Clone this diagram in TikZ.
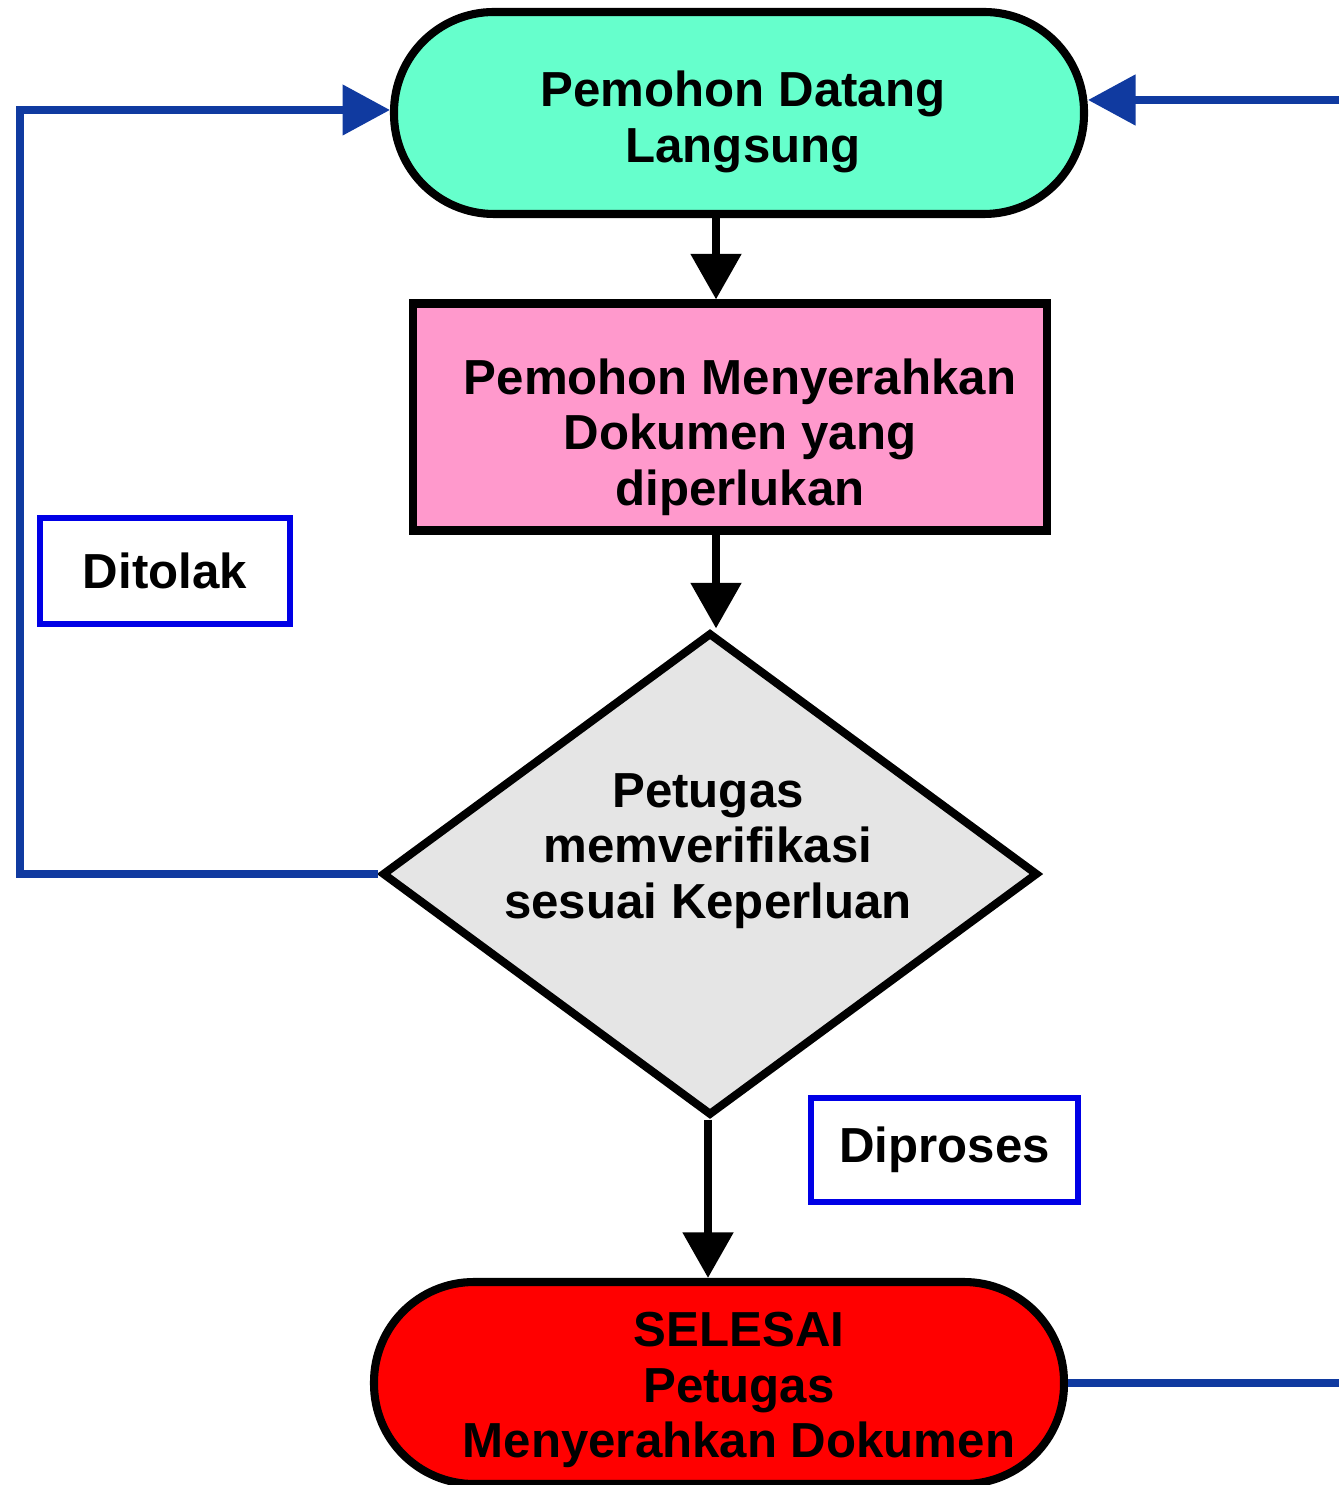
\documentclass[tikz,border=0pt]{standalone}
\usepackage{fontspec}
\setmainfont{Liberation Sans}
\usetikzlibrary{shapes.geometric,arrows.meta,calc}
\definecolor{termgreen}{RGB}{102,255,204}
\definecolor{procpink}{RGB}{255,153,204}
\definecolor{decgray}{RGB}{229,229,229}
\definecolor{termred}{RGB}{255,0,0}
\definecolor{loopblue}{RGB}{16,58,160}
\definecolor{boxblue}{RGB}{0,0,230}
\begin{document}
\begin{tikzpicture}[x=1cm,y=1cm,
  txt/.style={font=\fontsize{14}{15.8}\selectfont\bfseries, align=center},
  terminal/.style={draw=black, line width=2.3pt, rounded corners=1.0cm, minimum width=6.9cm, minimum height=2.02cm, inner sep=0pt},
  procbox/.style={draw=black, line width=2.3pt, fill=procpink, minimum width=6.34cm, minimum height=2.27cm, inner sep=0pt},
  decision/.style={shape=diamond, draw=black, line width=2.3pt, fill=decgray, minimum width=6.56cm, minimum height=4.83cm, inner sep=0pt},
  labelbox/.style={draw=boxblue, line width=1.8pt, fill=white, inner sep=0pt, txt},
  flowarrow/.style={draw=black, line width=2.3pt, -{Triangle[width=14pt,length=13pt]}},
  looparrow/.style={draw=loopblue, line width=2.1pt, -{Triangle[width=14pt,length=13.5pt]}},
  loopline/.style={draw=loopblue, line width=2.1pt}
]
\useasboundingbox (0,0) rectangle (13.39,-14.85);
\fill[white] (0,0) rectangle (13.39,-14.85);

\node[terminal, fill=termgreen] (start) at (7.39,-1.13) {};
\node[txt] (starttext) at (7.43,-1.22) {Pemohon Datang\\Langsung};
\node[procbox] (doc) at (7.30,-4.17) {};
\node[txt] (doctext) at (7.40,-4.37) {Pemohon Menyerahkan\\Dokumen yang\\diperlukan};
\node[decision] (dec) at (7.10,-8.74) {};
\node[txt] (dectext) at (7.08,-8.51) {Petugas\\memverifikasi\\sesuai Keperluan};
\node[terminal, fill=termred] (finish) at (7.19,-13.83) {};
\node[txt] (finishtext) at (7.39,-13.90) {SELESAI\\Petugas\\Menyerahkan Dokumen};

\node[labelbox, minimum width=2.50cm, minimum height=1.06cm] (tolak) at (1.65,-5.71) {Ditolak};
\node[labelbox, minimum width=2.67cm, minimum height=1.04cm] (proses) at (9.445,-11.50) {Diproses};

\coordinate (lx) at (0.20,0);
\coordinate (rx) at (13.39,0);
\coordinate (axis1) at (7.16,0);
\coordinate (axis2) at (7.08,0);
\coordinate (starttr) at ($(start.east)+(0,0.13)$);
\coordinate (starttl) at ($(start.west)+(0,0.03)$);

\draw[flowarrow] (start.south -| axis1) -- (doc.north -| axis1);
\draw[flowarrow] (doc.south -| axis1) -- (dec.north -| axis1);
\draw[flowarrow] (dec.south -| axis2) -- (finish.north -| axis2);

\draw[looparrow] (dec.west) -- (dec.west -| lx) |- (starttl);
\draw[loopline] (finish.east) -- (finish.east -| rx);
\draw[looparrow] (starttr -| rx) -- (starttr);
\end{tikzpicture}
\end{document}
